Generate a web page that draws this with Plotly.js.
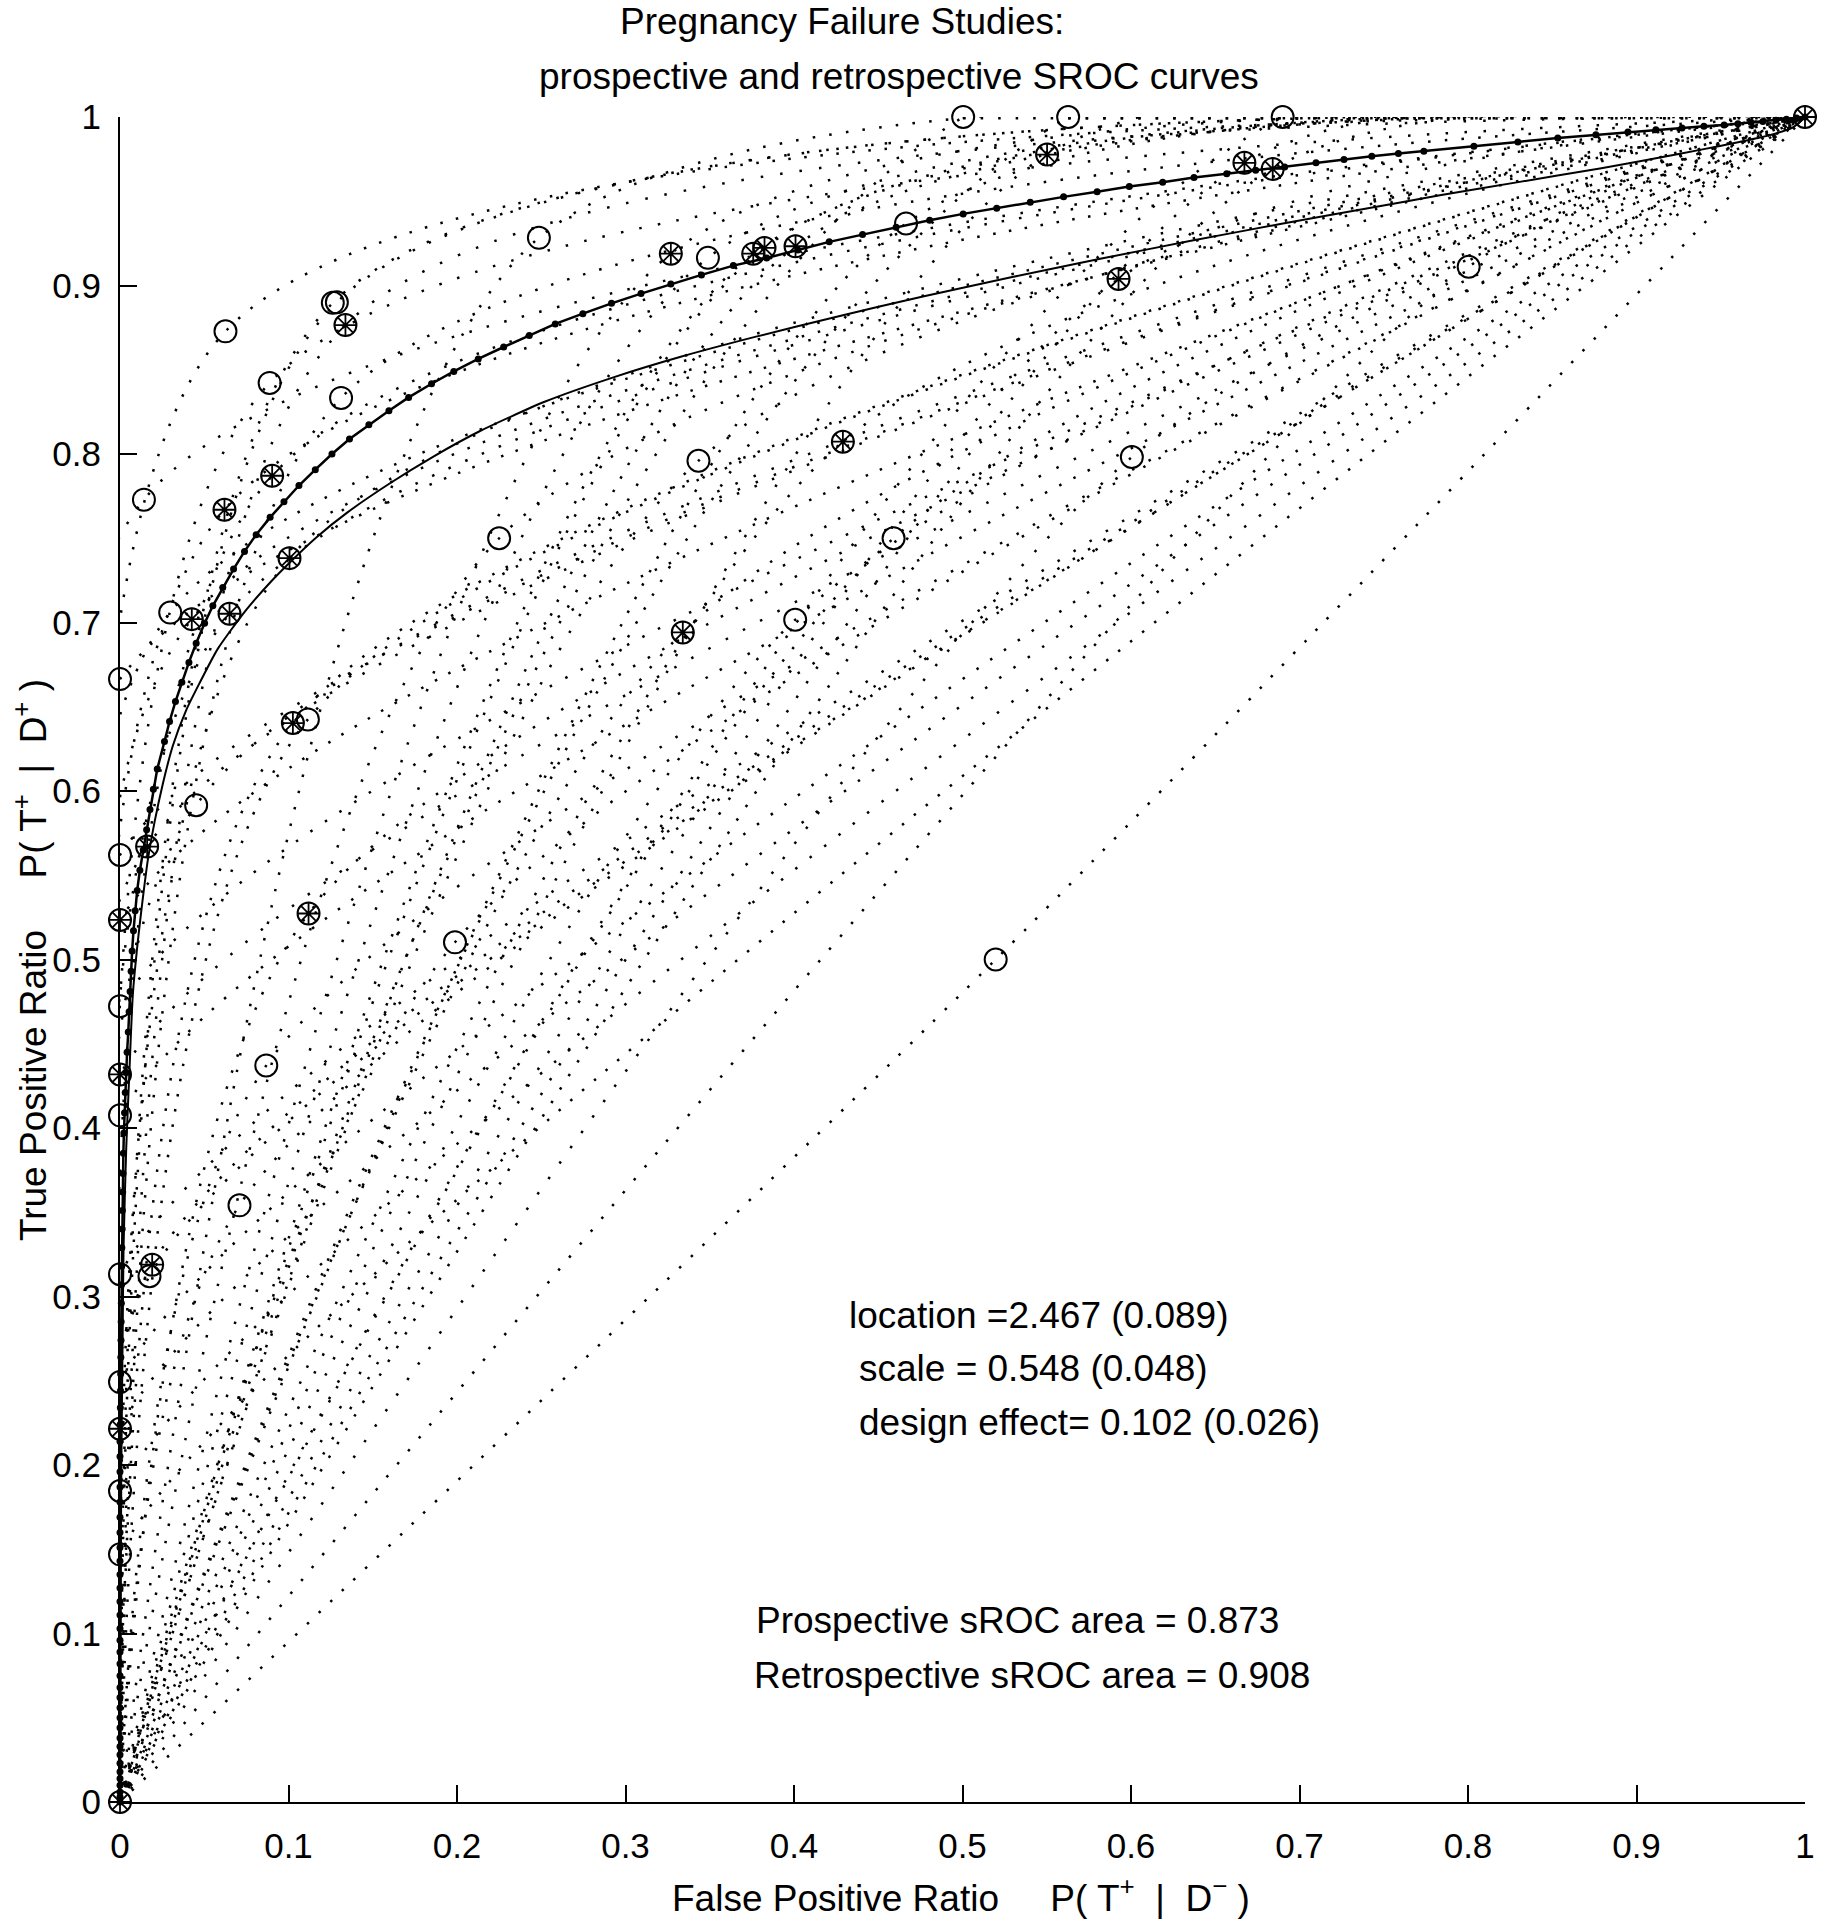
<!DOCTYPE html>
<html>
<head>
<meta charset="utf-8">
<script src="https://cdn.plot.ly/plotly-3.0.1.min.js"></script>
<style>
    html, body { margin: 0; padding: 0; background: #fff; }
    #sroc-chart { width: 1827px; height: 1920px; }
</style>
</head>
<body>
<div id="sroc-chart"></div>
<script>
// Study points drawn as open circles
const circleFpr = [0.5004, 0.5627, 0.6900, 0.2486, 0.3489, 0.4665, 0.1263, 0.1287, 0.0626, 0.0888,
                   0.1312, 0.0142, 0.0298, 0.3433, 0.2250, 0.4591, 0.6005, 0.8004, 0.4007, 0.1115,
                   0.0452, 0.1988, 0.5197, 0.0868, 0.0709, 0.0175, 0, 0, 0, 0, 0, 0, 0, 0];
const circleTpr = [1.0, 1.0, 1.0, 0.9283, 0.9164, 0.9368, 0.8897, 0.8900, 0.8728, 0.8422,
                   0.8333, 0.7729, 0.7059, 0.7960, 0.7500, 0.7500, 0.7982, 0.9111, 0.7016, 0.6425,
                   0.5916, 0.5102, 0.5000, 0.4371, 0.3541, 0.3120, 0.6664, 0.5620, 0.4723, 0.4075,
                   0.3132, 0.2492, 0.1846, 0.1470];

// Study points drawn as circle + asterisk
const starFpr = [0.5502, 0.6673, 0.6841, 0.3269, 0.3758, 0.3825, 0.4009, 0.1338, 0.0903, 0.0620,
                 0.1006, 0.0426, 0.0650, 0.1026, 0.5926, 0.4290, 0.3340, 0.0161, 0.1119, 0.0191,
                 0, 0, 0, 0, 1];
const starTpr = [0.9777, 0.9728, 0.9692, 0.9189, 0.9189, 0.9223, 0.9233, 0.8765, 0.7871, 0.7669,
                 0.7382, 0.7020, 0.7052, 0.6403, 0.9039, 0.8073, 0.6941, 0.5670, 0.5273, 0.3189,
                 0.5235, 0.4318, 0.2215, 0, 1];

// Retrospective SROC curve (dotted markers), area 0.908
const retroFpr = [0, 0, 0, 0, 0, 0, 0, 0, 0, 0,
                  0, 0, 0, 0, 0, 0, 0, 0, 0, 0,
                  0, 0, 0, 0, 0, 0, 0, 0, 0, 0,
                  0, 0, 0, 0.0001, 0.0002, 0.0003, 0.0004, 0.0005, 0.0006, 0.0007,
                  0.0008, 0.0009, 0.0010, 0.0011, 0.0013, 0.0014, 0.0016, 0.0018, 0.0020, 0.0023,
                  0.0027, 0.0031, 0.0036, 0.0042, 0.0049, 0.0054, 0.0060, 0.0066, 0.0072, 0.0080,
                  0.0090, 0.0102, 0.0118, 0.0138, 0.0158, 0.0178, 0.0198, 0.0221,
                  0.0264, 0.0294, 0.0329, 0.0367, 0.0409, 0.0452, 0.0502, 0.0551, 0.0610, 0.0674,
                  0.0739, 0.0808, 0.0891, 0.0973, 0.1062, 0.1159, 0.1258, 0.1362, 0.1477, 0.1596,
                  0.1713, 0.1849, 0.1981, 0.2126, 0.2277, 0.2429, 0.2583, 0.2747, 0.2917, 0.3092,
                  0.3269, 0.3451, 0.3640, 0.3838, 0.4023, 0.4209, 0.4407, 0.4606, 0.4805, 0.5004,
                  0.5203, 0.5402, 0.5600, 0.5799, 0.5990, 0.6188, 0.6374, 0.6568, 0.6740, 0.6912,
                  0.7098, 0.7264, 0.7429, 0.7587, 0.7738, 0.8035, 0.8296, 0.8533, 0.8759, 0.8949,
                  0.9115, 0.9270, 0.9400, 0.9520, 0.9602, 0.9680, 0.9750, 0.9828, 0.9890, 0.9950, 1];
const retroTpr = [0, 0.003, 0.006, 0.010, 0.014, 0.018, 0.023, 0.028, 0.033, 0.038,
                  0.044, 0.050, 0.056, 0.062, 0.068, 0.075, 0.082, 0.089, 0.096, 0.103,
                  0.111, 0.119, 0.127, 0.135, 0.143, 0.151, 0.160, 0.169, 0.178, 0.187,
                  0.196, 0.205, 0.214, 0.224, 0.234, 0.244, 0.254, 0.264, 0.274, 0.285,
                  0.296, 0.307, 0.318, 0.329, 0.340, 0.351, 0.362, 0.373, 0.385, 0.397,
                  0.409, 0.421, 0.433, 0.445, 0.457, 0.469, 0.481, 0.493, 0.505, 0.517,
                  0.529, 0.541, 0.553, 0.565, 0.577, 0.589, 0.601, 0.613,
                  0.6294, 0.6412, 0.6531, 0.6646, 0.6763, 0.6877, 0.6996, 0.7099, 0.7208, 0.7317,
                  0.7422, 0.7521, 0.7624, 0.7717, 0.7813, 0.7907, 0.8000, 0.8089, 0.8174, 0.8257,
                  0.8336, 0.8417, 0.8490, 0.8564, 0.8635, 0.8704, 0.8772, 0.8833, 0.8894, 0.8952,
                  0.9009, 0.9063, 0.9118, 0.9163, 0.9211, 0.9259, 0.9302, 0.9346, 0.9387, 0.9425,
                  0.9459, 0.9494, 0.9526, 0.9556, 0.9587, 0.9613, 0.9641, 0.9663, 0.9684, 0.9704,
                  0.9728, 0.9748, 0.9767, 0.9783, 0.9797, 0.9826, 0.9852, 0.9876, 0.9895, 0.9911,
                  0.9925, 0.9935, 0.9945, 0.9953, 0.9960, 0.9967, 0.9973, 0.9980, 0.9987, 0.9994, 1];

// Prospective SROC curve (solid), area 0.873
const prosFpr = [0, 0.0003, 0.0008, 0.0016, 0.0021, 0.0037, 0.0056, 0.0076, 0.0106, 0.0135,
                 0.0165, 0.0205, 0.0254, 0.0314, 0.0393, 0.0472, 0.0581, 0.0749, 0.0898, 0.1006,
                 0.1165, 0.1352, 0.1600, 0.1860, 0.2134, 0.2520, 0.2928, 0.3338, 0.3769, 0.4235,
                 0.4765, 0.5295, 0.5825, 0.6356, 0.6886, 0.7415, 0.7833, 0.8307, 0.8783, 0.9020,
                 0.9258, 0.9495, 0.9733, 0.9923, 1];
const prosTpr = [0, 0.100, 0.200, 0.280, 0.329, 0.388, 0.434, 0.479, 0.511, 0.536,
                 0.559, 0.5815, 0.6042, 0.627, 0.648, 0.664, 0.6845, 0.7075, 0.7245, 0.7355,
                 0.7505, 0.7655, 0.7825, 0.7985, 0.8135, 0.831, 0.8455, 0.858, 0.8695, 0.881,
                 0.8935, 0.905, 0.916, 0.9265, 0.9365, 0.946, 0.9535, 0.9615, 0.9695, 0.9738,
                 0.9782, 0.9828, 0.9878, 0.9935, 1];

const tickVals = [0, 0.1, 0.2, 0.3, 0.4, 0.5, 0.6, 0.7, 0.8, 0.9, 1];
const tickText = ['0', '0.1', '0.2', '0.3', '0.4', '0.5', '0.6', '0.7', '0.8', '0.9', '1'];

const FONT = 'Liberation Sans, Arial, Helvetica, sans-serif';
const INK = '#000';
// slightly different dot gaps per curve, so the dots do not line up in rings round the origin
const DOT_GAPS = [15, 13.6, 16.4, 14.3, 15.7, 12.9, 17.1];

function dots(i, width) {
    return { color: INK, width: width || 2.5, dash: '2.5px,' + DOT_GAPS[i % DOT_GAPS.length] + 'px' };
}

// each study gets a dotted curve from (0,0) through its point to (1,1)
function studyCurve(fpr, tpr, i) {
    return {
        x: [0, fpr, 1],
        y: [0, tpr, 1],
        type: 'scatter',
        mode: 'lines',
        line: Object.assign({ shape: 'spline', smoothing: tpr >= 1 ? 1.2 : 0.75 }, dots(i)),
        hoverinfo: 'skip',
        showlegend: false,
    };
}

// a study on the top edge runs flat along it to (1,1); half of it is clipped, so draw it wider
function topEdge(fpr) {
    return {
        x: [fpr, 1], y: [1, 1], type: 'scatter', mode: 'lines',
        line: dots(0, 5), hoverinfo: 'skip', showlegend: false,
    };
}

const traces = [];
let k = 0;
circleFpr.forEach((f, i) => {
    traces.push(studyCurve(f, circleTpr[i], k++));
    if (circleTpr[i] >= 1) traces.push(topEdge(f));
});
starFpr.forEach((f, i) => {
    const t = starTpr[i];
    if ((f === 0 && t === 0) || (f === 1 && t === 1)) return;
    traces.push(studyCurve(f, t, k++));
});

traces.push({
    x: prosFpr, y: prosTpr, type: 'scatter', mode: 'lines',
    line: { color: INK, width: 2, shape: 'spline', smoothing: 0.6 },
    hoverinfo: 'skip', showlegend: false,
});
traces.push({
    x: retroFpr, y: retroTpr, type: 'scatter', mode: 'lines+markers',
    line: { color: INK, width: 2.5 },
    marker: { color: INK, size: 7 },
    cliponaxis: false, hoverinfo: 'skip', showlegend: false,
});

// circle outline for both kinds of study points
traces.push({
    x: circleFpr.concat(starFpr), y: circleTpr.concat(starTpr), type: 'scatter', mode: 'markers',
    marker: { symbol: 'circle-open', size: 22, color: INK, line: { color: INK, width: 2 } },
    cliponaxis: false, hoverinfo: 'skip', showlegend: false,
});
traces.push({
    x: starFpr, y: starTpr, type: 'scatter', mode: 'markers',
    marker: { symbol: 'asterisk-open', size: 19, color: INK, line: { color: INK, width: 1.8 } },
    cliponaxis: false, hoverinfo: 'skip', showlegend: false,
});

function axisStyle(standoff) {
    return {
        range: [0, 1],
        tickvals: tickVals,
        ticktext: tickText,
        ticks: 'inside',
        ticklen: 17,
        tickwidth: 2,
        tickcolor: INK,
        showline: true,
        linewidth: 2,
        linecolor: INK,
        showgrid: false,
        zeroline: false,
        ticklabelstandoff: standoff,
        tickfont: { family: FONT, size: 35, color: INK },
        fixedrange: true,
    };
}

function note(text, x, y, extra) {
    return Object.assign({
        text: text, x: x, y: y, xref: 'x', yref: 'y',
        xanchor: 'left', yanchor: 'middle', showarrow: false,
        font: { family: FONT, size: 37, color: INK },
    }, extra || {});
}

const GAP = '\u00a0\u00a0\u00a0\u00a0\u00a0';
const layout = {
    width: 1827,
    height: 1920,
    margin: { l: 120, r: 22, t: 117, b: 118 },
    paper_bgcolor: '#fff',
    plot_bgcolor: '#fff',
    showlegend: false,
    xaxis: axisStyle(12),
    yaxis: axisStyle(10),
    annotations: [
        note('Pregnancy Failure Studies:', 0.4285, 1.0564, { xref: 'paper', yref: 'paper', xanchor: 'center' }),
        note('prospective and retrospective SROC curves', 0.4623, 1.0243, { xref: 'paper', yref: 'paper', xanchor: 'center' }),
        note('False Positive Ratio' + GAP + 'P( T<sup>+</sup>\u00a0 | \u00a0D<sup>\u2212</sup> )', 0.4991, -0.0552,
             { xref: 'paper', yref: 'paper', xanchor: 'center' }),
        note('True Positive Ratio' + GAP + 'P( T<sup>+</sup>\u00a0 | \u00a0D<sup>+</sup> )', -0.0534, 0.4997,
             { xref: 'paper', yref: 'paper', xanchor: 'center', textangle: -90 }),
        note('location =2.467 (0.089)', 0.4313, 0.2889),
        note('scale = 0.548 (0.048)', 0.4372, 0.2572),
        note('design effect= 0.102 (0.026)', 0.4372, 0.2255),
        note('Prospective sROC area = 0.873', 0.3764, 0.1078),
        note('Retrospective sROC area = 0.908', 0.3749, 0.0751),
    ],
};

Plotly.newPlot('sroc-chart', traces, layout, { displayModeBar: false, staticPlot: true });
</script>
</body>
</html>
